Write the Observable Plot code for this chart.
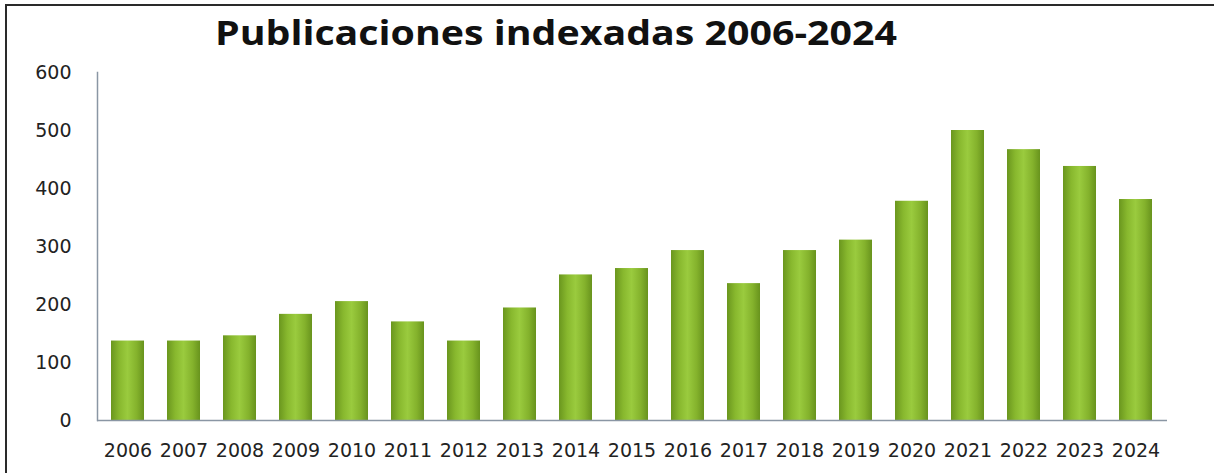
<!DOCTYPE html>
<html>
<head>
<meta charset="utf-8">
<script src="https://cdn.jsdelivr.net/npm/d3@7"></script>
<script src="https://cdn.jsdelivr.net/npm/@observablehq/plot@0.6"></script>
<style>
  html, body { margin: 0; padding: 0; background: #fff; }
  #wrap { position: relative; width: 1214px; height: 473px; overflow: hidden; background: #fff; }
  #border { position: absolute; left: 5px; top: 4px; right: -10px; bottom: -10px; border-left: 2px solid #2a2a2a; border-top: 2px solid #2a2a2a; pointer-events: none; }
  #title { position: absolute; left: 215px; top: 11px; font-family: "Open Sans", sans-serif; font-weight: 700; font-size: 34px; line-height: 42px; color: #111; white-space: nowrap; transform-origin: 0 0; }
  #chart { position: absolute; left: 0; top: 0; }
</style>
</head>
<body>
<div id="wrap">
  <div id="chart"></div>
  <div id="title">Publicaciones indexadas 2006-2024</div>
  <div id="border"></div>
</div>
<script>
const years = ["2006","2007","2008","2009","2010","2011","2012","2013","2014","2015","2016","2017","2018","2019","2020","2021","2022","2023","2024"];
const counts = [137, 137, 146, 183, 205, 170, 137, 194, 251, 262, 293, 236, 293, 311, 378, 500, 467, 438, 381];
const yTicks = [0, 100, 200, 300, 400, 500, 600];

const data = years.map((y, i) => ({year: y, value: counts[i]}));

const plot = Plot.plot({
  width: 1214,
  height: 473,
  marginTop: 72,
  marginBottom: 53,
  marginLeft: 97,
  marginRight: 47,
  style: {fontFamily: "DejaVu Sans, sans-serif", fontSize: "19px", color: "#222", background: "transparent"},
  x: {domain: years, paddingInner: 0.41, paddingOuter: 0.19, label: null},
  y: {domain: [0, 600], ticks: yTicks, label: null},
  marks: [
    Plot.barY(data, {x: "year", y: "value", fill: "url(#barGrad)"}),
    Plot.frame({anchor: "left", stroke: "#8a96a4", strokeWidth: 1.5}),
    Plot.ruleY([0], {stroke: "#8a96a4", strokeWidth: 1.5}),
    Plot.axisY({ticks: yTicks, tickSize: 0, tickPadding: 26, fill: "#222", label: null, fontSize: 19}),
    Plot.axisX({tickSize: 0, tickPadding: 23, fill: "#222", label: null, fontSize: 19})
  ]
});

const ns = "http://www.w3.org/2000/svg";
const defs = document.createElementNS(ns, "defs");
defs.innerHTML = `
  <linearGradient id="barGrad" x1="0" y1="0" x2="1" y2="0">
    <stop offset="0%" stop-color="#6a961e"/>
    <stop offset="25%" stop-color="#88b82e"/>
    <stop offset="50%" stop-color="#9acb3e"/>
    <stop offset="78%" stop-color="#84b22c"/>
    <stop offset="100%" stop-color="#68931d"/>
  </linearGradient>`;
plot.insertBefore(defs, plot.firstChild);
document.getElementById("chart").appendChild(plot);

// stretch title horizontally to match the reference width
const t = document.getElementById("title");
const w = t.getBoundingClientRect().width;
t.style.transform = `scaleX(${682 / w})`;
</script>
</body>
</html>
